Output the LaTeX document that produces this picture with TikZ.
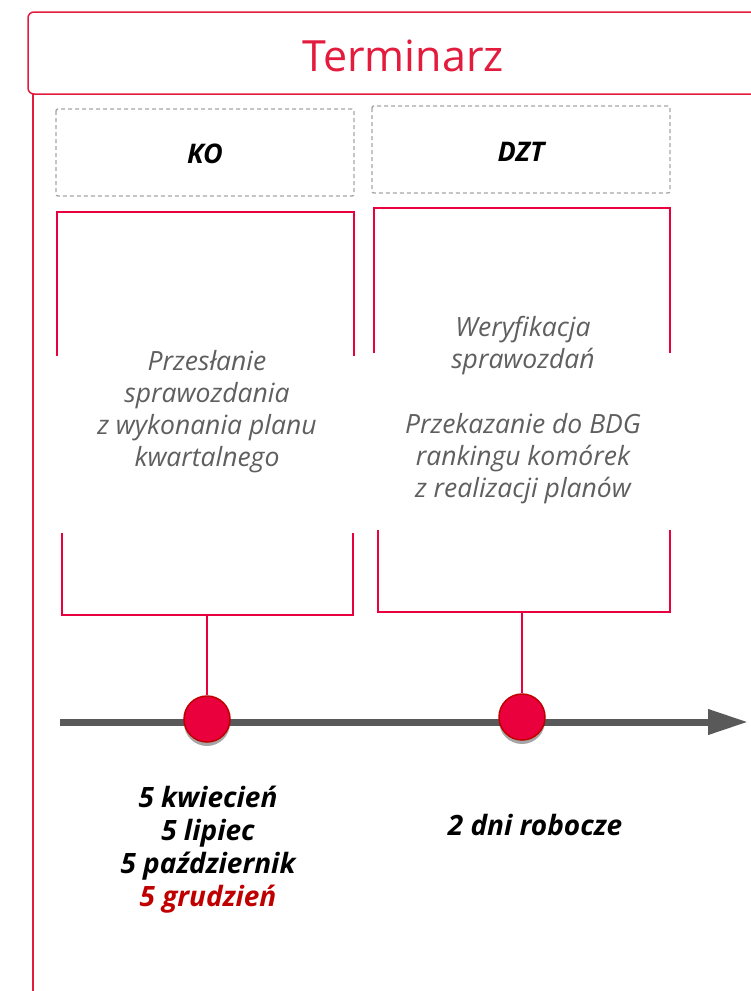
\documentclass[tikz,border=0pt]{standalone}
\usepackage{fontspec}
\setmainfont{Open Sans}
\usetikzlibrary{shadows,arrows.meta}
\definecolor{titlered}{HTML}{E31C3D}
\definecolor{boxred}{HTML}{E8003F}
\definecolor{dotred}{HTML}{EA003D}
\definecolor{dotborder}{HTML}{C00000}
\definecolor{txtgray}{HTML}{5F5F5F}
\definecolor{dashgray}{HTML}{A6A6A6}
\definecolor{linegray}{HTML}{595959}
\definecolor{datered}{HTML}{C00000}
\tikzset{
  frame/.style={draw=titlered, line width=1.5pt},
  headbox/.style={draw=dashgray, line width=1.4pt, dash pattern=on 4pt off 3pt, rounded corners=2pt},
  headtxt/.style={font=\fontsize{27}{30}\selectfont\bfseries\itshape},
  bracket/.style={draw=boxred, line width=2.6pt},
  bodytxt/.style={align=center, text=txtgray, font=\fontsize{26.5}{32}\selectfont\itshape},
  datetxt/.style={align=center, font=\fontsize{28}{33}\selectfont\bfseries\itshape},
  dot/.style={circle, minimum size=46pt, inner sep=0pt, fill=dotred, draw=dotborder, line width=1.5pt,
     drop shadow={shadow xshift=0pt, shadow yshift=-4pt, opacity=0.35, fill=black}},
  timeline/.style={draw=linegray, line width=7pt, -{Triangle[length=40pt,width=24pt]}}
}
\begin{document}
\begin{tikzpicture}[x=1pt,y=-1pt]
\useasboundingbox (0,0) rectangle (751,991);
\clip (0,0) rectangle (751,991);
\fill[white] (0,0) rectangle (751,991);
% title frame
\draw[frame, rounded corners=6pt] (770,94) -- (28,94) -- (28,12) -- (770,12);
\draw[frame] (33,94) -- (33,995);
\node[anchor=base, text=titlered, font=\fontsize{43}{46}\selectfont, inner sep=0pt] (title) at (403,71) {Terminarz};
% header boxes
\draw[headbox] (56,109) rectangle (354,196);
\node[headtxt] (ko) at (205,154) {KO};
\draw[headbox] (372,106) rectangle (670,193);
\node[headtxt] (dzt) at (521,152) {DZT};
% brackets KO
\draw[bracket] (57,356) -- (57,212) -- (354,212) -- (354,356);
\draw[bracket] (62,533) -- (62,615) -- (353,615) -- (353,533);
\coordinate (kobot) at (207,615);
% brackets DZT
\draw[bracket] (374,353) -- (374,208) -- (670,208) -- (670,353);
\draw[bracket] (378,530) -- (378,612) -- (670,612) -- (670,530);
\coordinate (dztbot) at (522,612);
% body text
\node[bodytxt] (kotxt) at (207,412) {Przesłanie\\sprawozdania\\z wykonania planu\\kwartalnego};
\node[bodytxt] (dzttxt) at (523,410) {Weryfikacja\\sprawozdań\\[33pt]Przekazanie do BDG\\rankingu komórek\\z realizacji planów};
% timeline
\coordinate (tlstart) at (60,722);
\coordinate (tlend) at (748,722);
\draw[timeline] (tlstart) -- (tlend);
\node[dot] (d1) at (207,719) {};
\node[dot] (d2) at (522,717) {};
\draw[bracket] (kobot) -- (d1.north);
\draw[bracket] (dztbot) -- (d2.north);
% dates
\node[datetxt] (dates) at (208,850) {5 kwiecień\\5 lipiec\\5 październik\\\textcolor{datered}{5 grudzień}};
\node[datetxt] (dzdate) at (535,825) {2 dni robocze};
\end{tikzpicture}
\end{document}
